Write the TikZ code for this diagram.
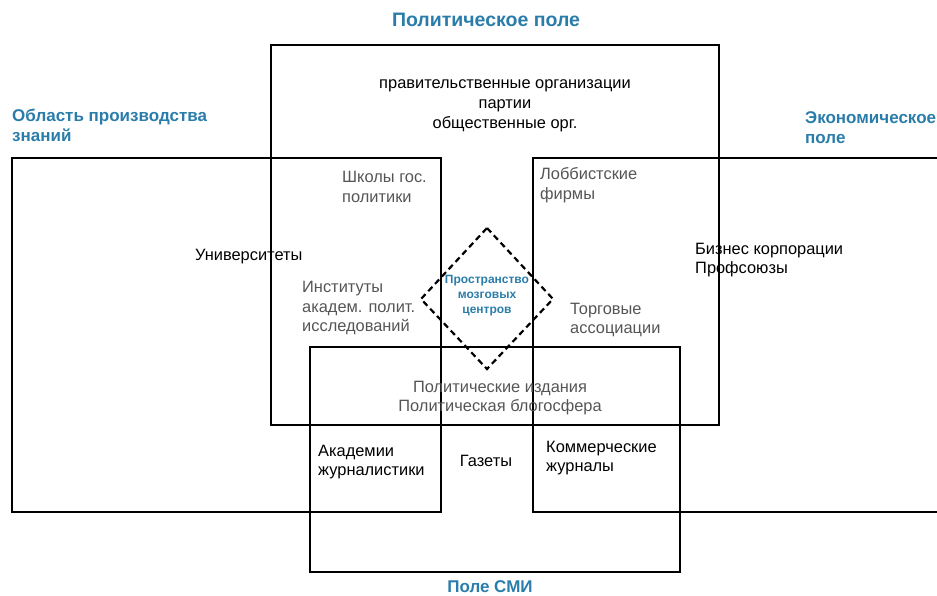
\documentclass[tikz,border=0pt]{standalone}
\usepackage{fontspec}
\setmainfont{Liberation Sans}
\usepackage{xcolor}
\definecolor{FieldTitle}{HTML}{2A7DAA}
\definecolor{FieldGray}{HTML}{555555}

\begin{document}
\begin{tikzpicture}[x=1pt, y=-1pt,
    fieldline/.style={line width=1.6pt, black},
    title/.style={font=\fontsize{17}{20}\selectfont\bfseries, text=FieldTitle, inner sep=0pt, align=left},
    actor/.style={font=\fontsize{16.4}{19.8}\selectfont, text=black, inner sep=0pt, align=left},
    shared/.style={font=\fontsize{16.4}{19.8}\selectfont, text=FieldGray, inner sep=0pt, align=left}]
    \useasboundingbox (0,0) rectangle (937,596);

    % fields
    \draw[fieldline] (271,45) rectangle (719,425);
    \draw[fieldline] (12,158) rectangle (441,512);
    \draw[fieldline] (937,158) -| (533,512) -- (937,512);
    \draw[fieldline] (310,347) rectangle (680,572);
    \draw[line width=2.2pt, dash pattern=on 6pt off 4pt]
      (487,228) -- (553,299) -- (487,369) -- (421,299) -- cycle;

    % field titles
    \node[title, font=\fontsize{19.5}{22}\selectfont\bfseries] (polit) at (486,20) {Политическое поле};
    \node[title, anchor=west] (know) at (12,125) {Область производства\\знаний};
    \node[title, anchor=west] (econ) at (805,128) {Экономическое\\поле};
    \node[title] (media) at (490,587) {Поле СМИ};
    \node[font=\fontsize{12}{15}\selectfont\bfseries, text=FieldTitle, inner sep=0pt, align=center] (think) at (487,296) {Пространство\\мозговых\\центров};

    % actors
    \node[actor, align=center] (gov) at (505,106) {правительственные организации\\партии\\общественные орг.};
    \node[shared, anchor=west] (schools) at (342,187) {Школы гос.\\политики};
    \node[shared, anchor=west] (lobby) at (540,185) {Лоббистские\\фирмы};
    \node[actor, anchor=west] (univ) at (195,257) {Университеты};
    \node[actor, anchor=west] (biz) at (695,260) {Бизнес корпорации\\Профсоюзы};
    \node[shared, anchor=west] (inst) at (302,308) {Институты\\академ. полит.\\исследований};
    \node[shared, anchor=west] (trade) at (570,320) {Торговые\\ассоциации};
    \node[shared, align=center] (press) at (500,398) {Политические издания\\Политическая блогосфера};
    \node[actor, anchor=west] (acad) at (318,462) {Академии\\журналистики};
    \node[actor] (news) at (486,461) {Газеты};
    \node[actor, anchor=west] (comm) at (546,458) {Коммерческие\\журналы};
\end{tikzpicture}
\end{document}
